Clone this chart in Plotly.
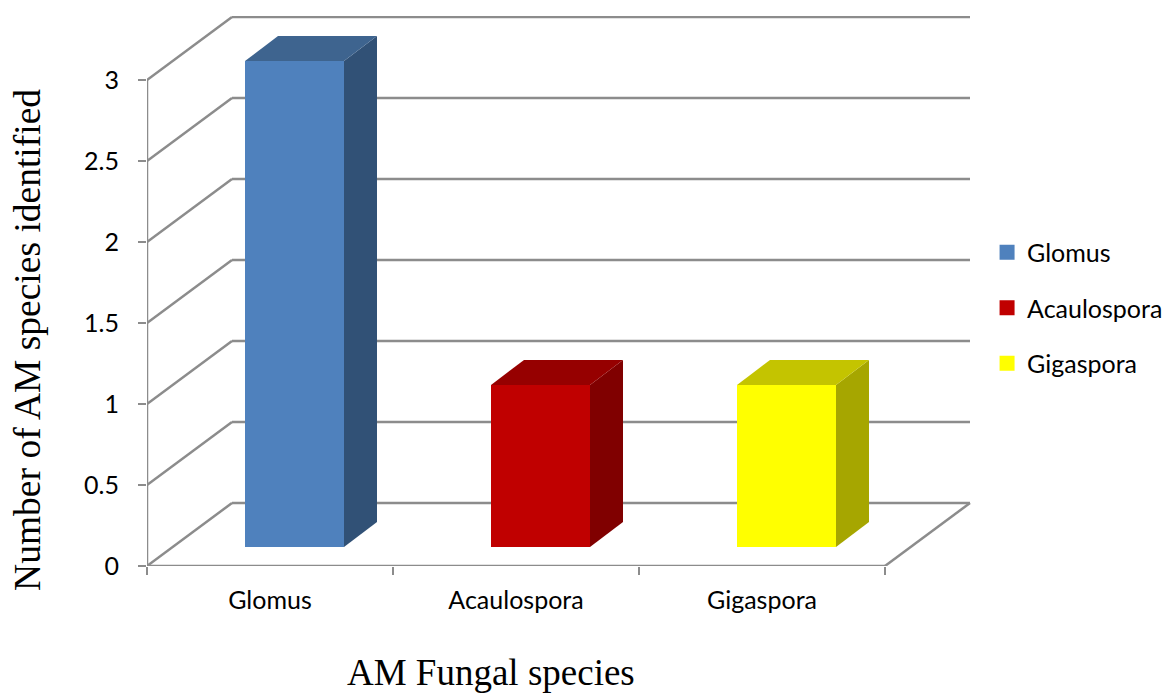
import plotly.graph_objects as go

categories = ["Glomus", "Acaulospora", "Gigaspora"]
values = [3, 1, 1]
front_colors = ["#4F81BD", "#C00000", "#FFFF00"]
side_colors = ["#315176", "#800000", "#A6A600"]
top_colors = ["#3E648F", "#960000", "#C4C400"]
y_ticks = [0, 0.5, 1, 1.5, 2, 2.5, 3]
y_tick_labels = ["0", "0.5", "1", "1.5", "2", "2.5", "3"]

PX_X, PX_Y = 246.0, 162.0      # pixels per data unit
WALL_DX, WALL_DY = 85 / PX_X, 63 / PX_Y
BAR_DX, BAR_DY = 33 / PX_X, 25 / PX_Y
BAR_BASE = 19 / PX_Y
BAR_WIDTH = 99 / PX_X
BAR_SHIFT = 24.5 / PX_X
GRID = "#8C8C8C"
SANS = "Lato, Arial, sans-serif"
SERIF = "Liberation Serif, Times New Roman, serif"

fig = go.Figure()

for i, (name, v) in enumerate(zip(categories, values)):
    cx = i + 0.5 + BAR_SHIFT
    x0, x1 = cx - BAR_WIDTH / 2, cx + BAR_WIDTH / 2
    y0, y1 = BAR_BASE, BAR_BASE + v
    fig.add_trace(go.Bar(x=[cx], y=[v], base=[BAR_BASE], width=[BAR_WIDTH],
                         marker=dict(color=front_colors[i], line_width=0),
                         showlegend=False, hoverinfo="skip"))
    fig.add_trace(go.Scatter(x=[x1, x1 + BAR_DX, x1 + BAR_DX, x1, x1],
                             y=[y0, y0 + BAR_DY, y1 + BAR_DY, y1, y0],
                             mode="lines", fill="toself", fillcolor=side_colors[i],
                             line=dict(width=0), showlegend=False, hoverinfo="skip"))
    fig.add_trace(go.Scatter(x=[x0, x0 + BAR_DX, x1 + BAR_DX, x1, x0],
                             y=[y1, y1 + BAR_DY, y1 + BAR_DY, y1, y1],
                             mode="lines", fill="toself", fillcolor=top_colors[i],
                             line=dict(width=0), showlegend=False, hoverinfo="skip"))
    fig.add_trace(go.Scatter(x=[None], y=[None], mode="markers", name=name,
                             legendgroup=name,
                             marker=dict(symbol="square", size=15, color=front_colors[i]),
                             hoverinfo="skip"))

# invisible trace carrying the secondary x axis (tick marks between categories)
fig.add_trace(go.Scatter(x=[0, 3], y=[0, 0], xaxis="x2", mode="lines",
                         line=dict(width=0), showlegend=False, hoverinfo="skip"))

n = len(categories)
shapes = []
line = dict(color=GRID, width=2.5)
for t in y_ticks:
    shapes.append(dict(type="line", xref="x", yref="y", layer="below", x0=0, y0=t,
                       x1=WALL_DX, y1=t + WALL_DY, line=line))
    shapes.append(dict(type="line", xref="x", yref="y", layer="below", x0=WALL_DX, y0=t + WALL_DY,
                       x1=n + WALL_DX, y1=t + WALL_DY, line=line))
shapes.append(dict(type="line", xref="x", yref="y", layer="below", x0=0, y0=0, x1=0, y1=max(y_ticks), line=line))
shapes.append(dict(type="line", xref="x", yref="y", layer="below", x0=0, y0=0, x1=n, y1=0, line=line))
shapes.append(dict(type="line", xref="x", yref="y", layer="below", x0=n, y0=0, x1=n + WALL_DX, y1=WALL_DY, line=line))

fig.update_layout(
    width=1165, height=694, autosize=False,
    margin=dict(l=147, r=194, t=16, b=128, autoexpand=False),
    paper_bgcolor="white", plot_bgcolor="white",
    barmode="overlay", shapes=shapes,
    xaxis=dict(range=[0, 824 / PX_X], tickmode="array", tickvals=[i + 0.5 for i in range(n)],
               ticktext=categories, ticks="", showgrid=False, zeroline=False, showline=False,
               tickfont=dict(family=SANS, size=25, color="black"), ticklabelstandoff=17),
    xaxis2=dict(range=[0, 824 / PX_X], overlaying="x", side="bottom", tickmode="array",
                tickvals=list(range(n + 1)), showticklabels=False, ticks="outside", ticklen=8,
                tickwidth=2, tickcolor=GRID, showgrid=False, zeroline=False, showline=False),
    yaxis=dict(range=[0, 550 / PX_Y], tickmode="array", tickvals=y_ticks, ticktext=y_tick_labels,
               ticks="outside", ticklen=8, tickwidth=2, tickcolor=GRID, showgrid=False,
               zeroline=False, showline=False,
               tickfont=dict(family=SANS, size=25, color="black"), ticklabelstandoff=14),
    legend=dict(x=1.0195, xanchor="left", y=0.469, yanchor="middle", tracegroupgap=20,
                font=dict(family=SANS, size=25, color="black"), bgcolor="rgba(0,0,0,0)",
                itemclick=False, itemdoubleclick=False),
    annotations=[
        dict(text="Number of AM species identified", xref="paper", yref="paper",
             x=-0.1445, y=0.411, xanchor="center", yanchor="middle", textangle=-90, showarrow=False,
             font=dict(family=SERIF, size=37.5, color="black")),
        dict(text="AM Fungal species", xref="paper", yref="paper",
             x=0.417, y=-0.194, xanchor="center", yanchor="middle", showarrow=False,
             font=dict(family=SERIF, size=37, color="black")),
    ],
)
fig.write_html("out.html", config={"displayModeBar": False},
               post_script="document.body.style.margin='0';")
